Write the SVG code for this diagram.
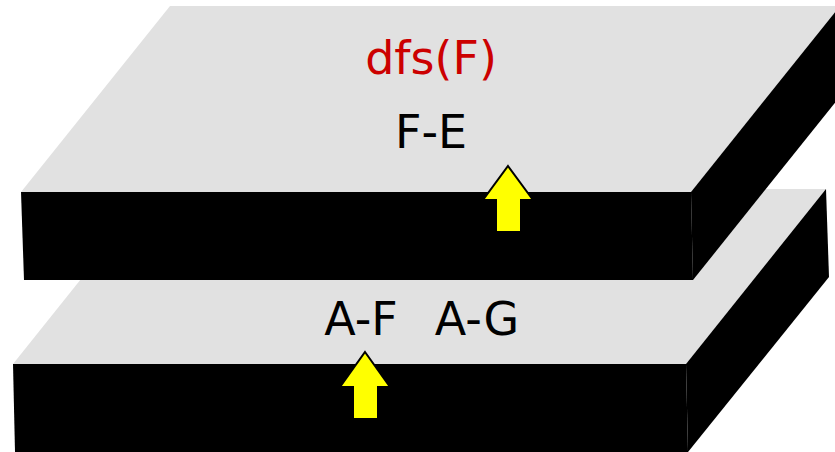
<svg xmlns="http://www.w3.org/2000/svg" width="835" height="452" viewBox="0 0 835 452">
  <style>
    .top { fill: #e1e1e1; }
    .side { fill: #000000; }
    .lbl { font-family: "DejaVu Sans", "Liberation Sans", sans-serif; font-size: 46px; text-anchor: middle; fill: #000000; }
    .red { fill: #cc0000; }
    .arrow { fill: #ffff00; stroke: #000000; stroke-width: 2; stroke-linejoin: miter; }
  </style>
  <rect width="835" height="452" fill="#ffffff"/>
  <g id="layer-bottom">
    <polygon class="top" points="153,189 826,189 686,364 13,364"/>
    <polygon class="side" points="13,364 686,364 688,452 15,452"/>
    <polygon class="side" points="686,364 826,189 829,277 688,452"/>
    <text class="lbl" x="361" y="335">A-F</text>
    <text class="lbl" x="477" y="335">A-G</text>
  </g>
  <g id="layer-top">
    <polygon class="top" points="170,6 840,6 691,192 21,192"/>
    <polygon class="side" points="21,192 691,192 693,280 24,280"/>
    <polygon class="side" points="691,192 840,6 842,94 693,280"/>
    <text class="lbl red" x="431" y="74">dfs(F)</text>
    <text class="lbl" x="431" y="148">F-E</text>
  </g>
  <g id="arrows">
    <polygon id="arrow-top" class="arrow" points="508,166 533,200 521,200 521,232 496,232 496,200 483,200"/>
    <polygon id="arrow-bottom" class="arrow" points="365,352 390,387 378,387 378,419 353,419 353,387 340,387"/>
  </g>
</svg>
